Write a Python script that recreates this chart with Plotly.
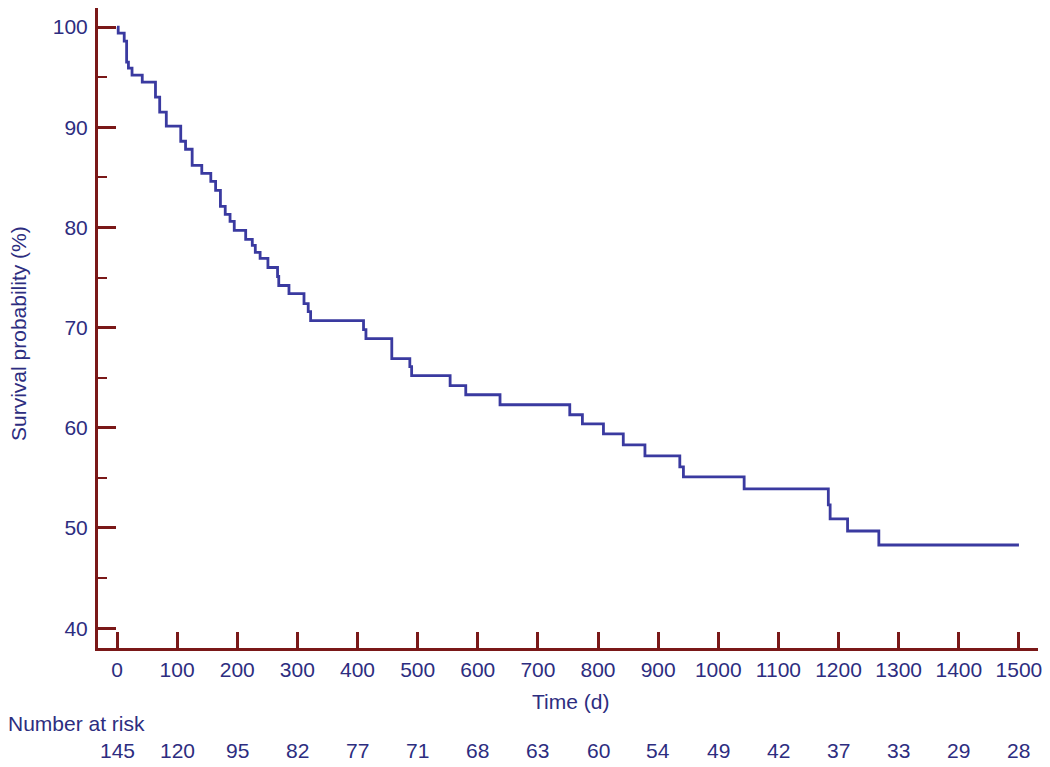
import plotly.graph_objects as go

# Kaplan-Meier step points (time in days, survival %)
time_d = [0, 2, 12, 16, 19, 25, 42, 64, 71, 82, 106, 114, 125, 141, 156, 164,
          172, 180, 188, 195, 214, 225, 230, 238, 251, 267, 269, 286, 311, 318,
          322, 410, 414, 457, 487, 490, 554, 580, 637, 753, 774, 809, 842, 878,
          936, 942, 1043, 1183, 1186, 1215, 1267, 1500]
survival = [100, 99.4, 98.6, 96.5, 95.9, 95.2, 94.5, 93.0, 91.5, 90.1, 88.6, 87.8,
            86.2, 85.4, 84.6, 83.7, 82.1, 81.3, 80.6, 79.7, 78.8, 78.2, 77.5, 76.9,
            76.0, 75.1, 74.2, 73.4, 72.4, 71.6, 70.7, 69.8, 68.9, 66.9, 66.1, 65.2,
            64.2, 63.3, 62.3, 61.3, 60.4, 59.4, 58.3, 57.2, 56.1, 55.1, 53.9, 52.3,
            50.9, 49.7, 48.3, 48.3]

risk_times = [0, 100, 200, 300, 400, 500, 600, 700, 800, 900, 1000, 1100, 1200, 1300, 1400, 1500]
number_at_risk = [145, 120, 95, 82, 77, 71, 68, 63, 60, 54, 49, 42, 37, 33, 29, 28]

x_ticks = list(range(0, 1501, 100))
y_ticks = [40, 50, 60, 70, 80, 90, 100]

TEXT = "#2d2d80"
AXIS = "#7a1818"
CURVE = "#3a3aa0"
FONT = "Liberation Sans, Arial, sans-serif"
FS = 21

W, H = 1050, 767
# plot area in page pixels: x 98..1038, y 8..648
L, R, T, B = 98, W - 1038, 8, H - 648
PW, PH = W - L - R, H - T - B


def py(page_y):
    return (H - B - page_y) / PH


def px(page_x):
    return (page_x - L) / PW


fig = go.Figure()
fig.add_trace(go.Scatter(x=time_d, y=survival, mode="lines",
                         line=dict(shape="hv", color=CURVE, width=2.8),
                         hoverinfo="x+y", showlegend=False))

fig.update_layout(
    width=W, height=H,
    margin=dict(l=L, r=R, t=T, b=B, pad=0),
    paper_bgcolor="white", plot_bgcolor="white",
    font=dict(family=FONT, size=FS, color=TEXT),
    xaxis=dict(range=[-31.6, 1531.7], tickvals=x_ticks, ticks="inside", ticklen=16,
               tickwidth=3, tickcolor=AXIS, showline=True, linecolor=AXIS, linewidth=3,
               showgrid=False, zeroline=False, tickfont=dict(size=FS, color=TEXT),
               ticklabelstandoff=1, ticklabeloverflow="allow"),
    yaxis=dict(range=[38.02, 101.9], tickvals=y_ticks, ticks="inside", ticklen=18,
               tickwidth=3, tickcolor=AXIS, showline=True, linecolor=AXIS, linewidth=3,
               showgrid=False, zeroline=False, tickfont=dict(size=FS, color=TEXT),
               ticklabelstandoff=3, ticklabeloverflow="allow",
               minor=dict(tickvals=[45, 55, 65, 75, 85, 95], ticks="inside", ticklen=9,
                          tickwidth=2, tickcolor=AXIS, showgrid=False)),
)

annotations = []
annotations.append(dict(text="Time (d)", xref="paper", yref="paper",
                        x=px(570), y=py(701),
                        xanchor="center", yanchor="middle", showarrow=False,
                        font=dict(size=FS, color=TEXT)))
annotations.append(dict(text="Survival probability (%)", xref="paper", yref="paper",
                        x=px(18), y=py(334), textangle=-90,
                        xanchor="center", yanchor="middle", showarrow=False,
                        font=dict(size=FS, color=TEXT)))
annotations.append(dict(text="Number at risk", xref="paper", yref="paper",
                        x=px(6), y=py(723),
                        xanchor="left", yanchor="middle", showarrow=False,
                        font=dict(size=FS, color=TEXT)))
for t, n in zip(risk_times, number_at_risk):
    annotations.append(dict(text=str(n), xref="x", yref="paper", x=t,
                            y=py(750), xanchor="center", yanchor="middle",
                            showarrow=False, font=dict(size=FS, color=TEXT)))
fig.update_layout(annotations=annotations)

# remove the default 8px body margin so the figure fills the 1050x767 window
fig.write_html("out.html", config={"displayModeBar": False},
               post_script="document.body.style.margin='0px';document.body.style.overflow='hidden';")
